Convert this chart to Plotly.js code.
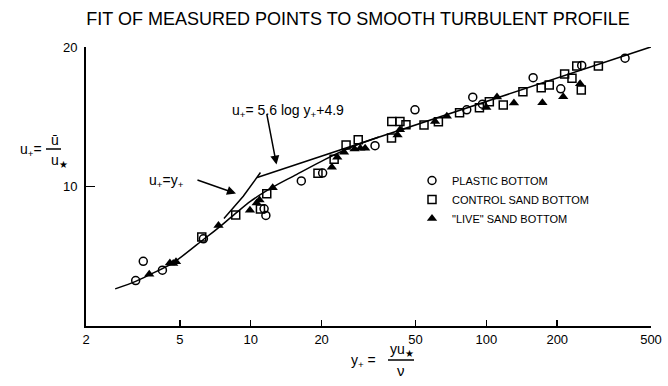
<!DOCTYPE html>
<html>
<head>
<meta charset="utf-8">
<script src="https://cdn.plot.ly/plotly-3.0.1.min.js"></script>
<style>html,body{margin:0;padding:0;background:#fff}#chart{width:668px;height:386px}</style>
</head>
<body>
<div id="chart"></div>
<script>
// ---- data ----
const plasticX = [3.25, 3.50, 4.22, 6.3, 11.4, 11.6, 16.4, 20.2, 33.7, 49.8, 82.6, 87.6, 96.3, 158, 207, 254, 388];
const plasticY = [3.26, 4.64, 4.0, 6.25, 8.4, 7.93, 10.4, 10.96, 12.93, 15.5, 15.5, 16.4, 15.9, 17.8, 17.0, 18.68, 19.2];

const controlX = [6.2, 8.64, 11.0, 11.7, 19.3, 22.6, 25.4, 28.6, 39.6, 39.7, 43.0, 45.6, 54.4, 62.6, 77, 93.5, 103, 118, 143, 171, 185, 215, 231, 242, 253, 299];
const controlY = [6.38, 7.96, 8.39, 9.48, 10.95, 11.96, 12.98, 13.36, 13.48, 14.66, 14.66, 14.43, 14.4, 14.64, 15.29, 15.64, 16.07, 15.84, 16.8, 17.07, 17.27, 18.07, 17.76, 18.64, 16.91, 18.64];

const liveX = [3.71, 4.54, 4.69, 4.82, 7.3, 9.93, 10.6, 10.9, 12.4, 22.1, 23.3, 24.9, 27.6, 29.2, 30.6, 42, 43, 60.6, 68, 100, 111, 131, 173, 212, 250];
const liveY = [3.71, 4.52, 4.48, 4.6, 7.21, 8.29, 8.81, 9.04, 9.91, 11.38, 12.09, 12.45, 12.69, 12.74, 12.74, 13.7, 14.07, 14.66, 15.04, 15.67, 16.41, 15.98, 16.0, 16.43, 17.36];

// smooth profile through the points (buffer region)
const bufferX = [2.66, 3.25, 3.7, 4.7, 6.3, 7.5, 8.6, 10, 12.4, 15.2, 20.7, 27, 35];
const bufferY = [2.66, 3.2, 3.65, 4.55, 6.2, 7.2, 8.05, 8.95, 9.95, 10.75, 11.95, 12.85, 13.55];

// u+ = 5.6 log y+ + 4.9
const logLawX = [10.65, 500];
const logLawY = [10.65, 20.01];

// u+ = y+
const linearX = [7.7, 9.3, 11.0];
const linearY = [7.7, 9.3, 11.0];

const xTicks = [2, 5, 10, 20, 50, 100, 200, 500];
const yTicks = [10, 20];

const legendNames = ['PLASTIC BOTTOM', 'CONTROL SAND BOTTOM', '"LIVE" SAND BOTTOM'];

// ---- chart ----
const FONT = 'Liberation Sans, Arial, sans-serif';
const lineStyle = {color: '#000', width: 1.5};

const traces = [
  {x: bufferX, y: bufferY, mode: 'lines', line: Object.assign({shape: 'spline', smoothing: 0.8}, lineStyle), showlegend: false, hoverinfo: 'skip'},
  {x: logLawX, y: logLawY, mode: 'lines', line: lineStyle, showlegend: false, hoverinfo: 'skip'},
  {x: linearX, y: linearY, mode: 'lines', line: lineStyle, showlegend: false, hoverinfo: 'skip'},
  {x: plasticX, y: plasticY, mode: 'markers', name: legendNames[0],
   marker: {symbol: 'circle-open', size: 8, color: '#000', line: {width: 1.5, color: '#000'}}},
  {x: controlX, y: controlY, mode: 'markers', name: legendNames[1],
   marker: {symbol: 'square-open', size: 8, color: '#000', line: {width: 1.5, color: '#000'}}},
  {x: liveX, y: liveY, mode: 'markers', name: legendNames[2],
   marker: {symbol: 'triangle-up', size: 9, color: '#000', line: {width: 0, color: '#000'}}}
];

const L = 86, T = 47, W = 565, H = 279;
const px = v => (v - L) / W;
const py = v => (T + H - v) / H;

const layout = {
  width: 668, height: 386,
  margin: {l: L, r: 668 - L - W, t: T, b: 386 - T - H},
  paper_bgcolor: '#fff', plot_bgcolor: '#fff',
  font: {family: FONT, color: '#000', size: 12},
  title: {text: 'FIT OF MEASURED POINTS TO SMOOTH TURBULENT PROFILE',
          font: {family: FONT, size: 18, color: '#000'},
          x: 358 / 668, xanchor: 'center', xref: 'container',
          y: 1 - 19 / 386, yanchor: 'middle', yref: 'container'},
  showlegend: true,
  legend: {x: px(412), xanchor: 'left', y: py(166), yanchor: 'top',
           font: {family: FONT, size: 11, color: '#000'},
           bgcolor: 'rgba(0,0,0,0)', borderwidth: 0, tracegroupgap: 0},
  xaxis: {type: 'log', range: [Math.log10(2), Math.log10(500)],
          tickvals: xTicks, ticktext: xTicks.map(String),
          ticks: 'inside', ticklen: 6, tickwidth: 1.5, tickcolor: '#000',
          showline: true, linewidth: 2, linecolor: '#000', mirror: false,
          showgrid: false, zeroline: false,
          tickfont: {family: FONT, size: 13, color: '#000'}},
  yaxis: {range: [0, 20], tickvals: yTicks, ticktext: yTicks.map(String),
          ticks: 'inside', ticklen: 9, tickwidth: 1.5, tickcolor: '#000',
          showline: true, linewidth: 2, linecolor: '#000', mirror: false,
          showgrid: false, zeroline: false, ticklabelstandoff: 4,
          tickfont: {family: FONT, size: 13, color: '#000'}},
  shapes: [
    {type: 'line', xref: 'paper', yref: 'paper', x0: px(46), x1: px(61), y0: py(149), y1: py(149), line: {color: '#000', width: 1.5}},
    {type: 'line', xref: 'paper', yref: 'paper', x0: px(388), x1: px(414), y0: py(360), y1: py(360), line: {color: '#000', width: 1.5}}
  ],
  annotations: [
    // y-axis label
    {xref: 'paper', yref: 'paper', x: px(18), y: py(150), text: 'u<sub>+</sub>=', showarrow: false, font: {family: FONT, size: 14}},
    {xref: 'paper', yref: 'paper', x: px(49), y: py(140), text: 'ū', showarrow: false, font: {family: FONT, size: 14}},
    {xref: 'paper', yref: 'paper', x: px(49), y: py(161), text: 'u<sub>★</sub>', showarrow: false, font: {family: FONT, size: 14}},
    // x-axis label
    {xref: 'paper', yref: 'paper', x: px(363), y: py(372), text: 'y<sub>+</sub> =', showarrow: false, font: {family: FONT, size: 14}},
    {xref: 'paper', yref: 'paper', x: px(402), y: py(361), text: 'yu<sub>★</sub>', showarrow: false, font: {family: FONT, size: 14}},
    {xref: 'paper', yref: 'paper', x: px(401), y: py(381), text: 'ν', showarrow: false, font: {family: FONT, size: 15}},
    // log-law label and arrow
    {xref: 'paper', yref: 'paper', x: px(288), y: py(100), text: 'u<sub>+</sub>= 5.6 log y<sub>+</sub>+4.9', showarrow: false, font: {family: FONT, size: 14}},
    {x: Math.log10(12.87), y: 11.57, text: '', showarrow: true, arrowhead: 2, arrowsize: 1.2, arrowwidth: 1.5, arrowcolor: '#000', ax: -10, ay: -52},
    // u+ = y+ label and arrow
    {xref: 'paper', yref: 'paper', x: px(147), y: py(181), text: 'u<sub>+</sub>=y<sub>+</sub>', showarrow: false, font: {family: FONT, size: 14}},
    {x: Math.log10(8.66), y: 9.5, text: '', showarrow: true, arrowhead: 2, arrowsize: 1.2, arrowwidth: 1.5, arrowcolor: '#000', ax: -40, ay: -14}
  ]
};

Plotly.newPlot('chart', traces, layout, {staticPlot: true, displayModeBar: false});
</script>
</body>
</html>
